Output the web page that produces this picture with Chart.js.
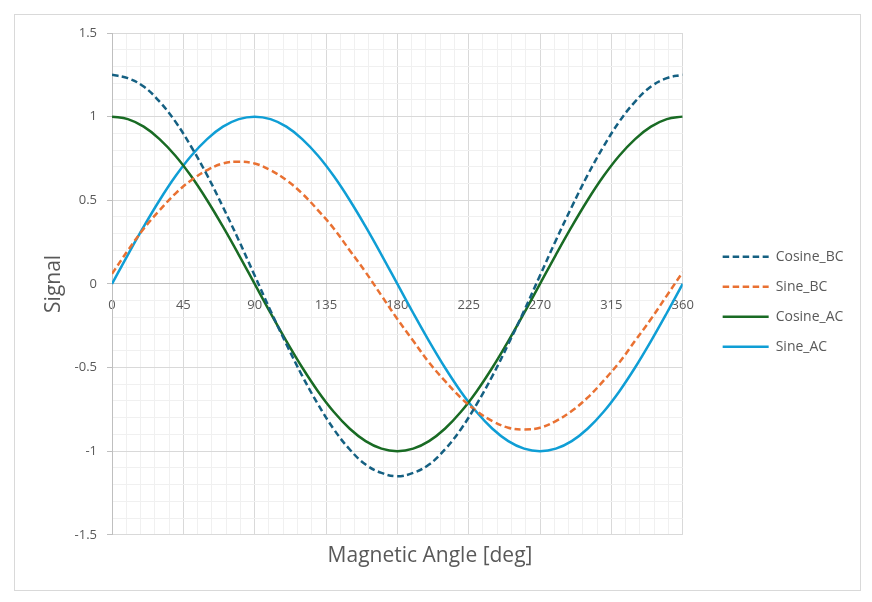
<!DOCTYPE html>
<html>
<head>
<meta charset="utf-8">
<script src="https://cdn.jsdelivr.net/npm/chart.js@4.4.1/dist/chart.umd.min.js"></script>
<style>
  html, body { margin: 0; padding: 0; background: #fff; }
  #box {
    position: absolute; left: 14px; top: 14px;
    width: 847px; height: 577px;
    border: 1px solid #d9d9d9; box-sizing: border-box;
  }
  #chart { display: block; }
</style>
</head>
<body>
<div id="box"><canvas id="chart" width="845" height="575"></canvas></div>
<script>
// angle samples, degrees
const angles = [0, 10, 20, 30, 40, 50, 60, 70, 80, 90, 100, 110, 120, 130, 140, 150, 160, 170, 180,
  190, 200, 210, 220, 230, 240, 250, 260, 270, 280, 290, 300, 310, 320, 330, 340, 350, 360];

// values
const cosineBC = [1.25, 1.23, 1.18, 1.09, 0.97, 0.82, 0.65, 0.46, 0.26, 0.05, -0.16, -0.36, -0.55,
  -0.72, -0.87, -0.99, -1.08, -1.13, -1.15, -1.13, -1.08, -0.99, -0.87, -0.72, -0.55, -0.36, -0.16,
  0.05, 0.26, 0.46, 0.65, 0.82, 0.97, 1.09, 1.18, 1.23, 1.25];
const sineBC = [0.06, 0.2, 0.33, 0.44, 0.54, 0.62, 0.68, 0.72, 0.73, 0.72, 0.68, 0.62, 0.54,
  0.44, 0.33, 0.2, 0.07, -0.07, -0.21, -0.34, -0.47, -0.58, -0.68, -0.76, -0.82, -0.86, -0.87,
  -0.86, -0.82, -0.76, -0.68, -0.58, -0.47, -0.34, -0.21, -0.07, 0.07];
const cosineAC = [1, 0.985, 0.94, 0.866, 0.766, 0.643, 0.5, 0.342, 0.174, 0, -0.174, -0.342, -0.5,
  -0.643, -0.766, -0.866, -0.94, -0.985, -1, -0.985, -0.94, -0.866, -0.766, -0.643, -0.5, -0.342,
  -0.174, 0, 0.174, 0.342, 0.5, 0.643, 0.766, 0.866, 0.94, 0.985, 1];
const sineAC = [0, 0.174, 0.342, 0.5, 0.643, 0.766, 0.866, 0.94, 0.985, 1, 0.985, 0.94, 0.866,
  0.766, 0.643, 0.5, 0.342, 0.174, 0, -0.174, -0.342, -0.5, -0.643, -0.766, -0.866, -0.94, -0.985,
  -1, -0.985, -0.94, -0.866, -0.766, -0.643, -0.5, -0.342, -0.174, 0];

const seriesNames = ["Cosine_BC", "Sine_BC", "Cosine_AC", "Sine_AC"];
const seriesColors = ["#156082", "#E97132", "#196B24", "#0F9ED5"];
const seriesDashed = [true, true, false, false];
const seriesValues = [cosineBC, sineBC, cosineAC, sineAC];

const xMajor = 45, xMinor = 9;
const yMin = -1.5, yMax = 1.5;

const textColor = "#595959";
const majorGrid = "#d9d9d9";
const minorGrid = "#f0f0f0";
const FONT = "'Open Sans', sans-serif";

function toPoints(vals) {
  return angles.map((a, i) => ({ x: a, y: vals[i] }));
}

const datasets = seriesNames.map((name, i) => ({
  label: name,
  data: toPoints(seriesValues[i]),
  showLine: true,
  borderColor: seriesColors[i],
  backgroundColor: seriesColors[i],
  borderWidth: 2.5,
  borderDash: seriesDashed[i] ? [6.5, 3.5] : [],
  pointRadius: 0,
  pointHoverRadius: 0,
  tension: 0.4,
  fill: false
}));

function isYMajor(v) { return Math.round(v * 10) % 5 === 0; }

// legend swatches take the dash of the line, not of the point
function legendLabels(chart) {
  return Chart.defaults.plugins.legend.labels.generateLabels(chart).map(item => {
    const ds = chart.data.datasets[item.datasetIndex];
    item.lineDash = ds.borderDash;
    item.lineWidth = ds.borderWidth;
    item.strokeStyle = ds.borderColor;
    return item;
  });
}

new Chart(document.getElementById("chart"), {
  type: "scatter",
  data: { datasets },
  options: {
    responsive: false,
    animation: false,
    layout: { padding: { top: 18, right: 15, bottom: 19.5, left: 0 } },
    scales: {
      x: {
        type: "linear",
        min: 0, max: 360,
        position: { y: 0 },
        grid: {
          drawTicks: false,
          color: c => (c.tick && c.tick.value % xMajor === 0) ? majorGrid : minorGrid
        },
        border: { color: "#bfbfbf", width: 1 },
        ticks: {
          stepSize: xMinor,
          autoSkip: false,
          maxRotation: 0,
          padding: 14,
          color: textColor,
          font: { family: FONT, size: 13 },
          callback: v => v % xMajor === 0 ? String(v) : ""
        }
      },
      y: {
        min: yMin, max: yMax,
        afterFit: s => { s.width = 97; },
        grid: {
          tickLength: 5,
          color: c => (c.tick && isYMajor(c.tick.value)) ? majorGrid : minorGrid,
          tickColor: c => (c.tick && isYMajor(c.tick.value)) ? "#bfbfbf" : "rgba(0,0,0,0)"
        },
        border: { color: "#bfbfbf", width: 1 },
        ticks: {
          stepSize: 0.1,
          autoSkip: false,
          padding: 10,
          color: textColor,
          font: { family: FONT, size: 13 },
          callback: v => isYMajor(v) ? String(Math.round(v * 10) / 10) : ""
        },
        title: {
          display: true,
          text: "Signal",
          color: textColor,
          font: { family: FONT, size: 21 },
          padding: { top: 26, bottom: 0 }
        }
      },
      // empty axis: keeps a gap between the plot and the legend
      gap: {
        type: "linear",
        position: "right",
        afterFit: s => { s.width = 24; },
        grid: { display: false },
        border: { display: false },
        ticks: { display: false }
      }
    },
    plugins: {
      tooltip: { enabled: false },
      title: {
        display: true,
        position: "bottom",
        text: "Magnetic Angle [deg]",
        color: textColor,
        font: { family: FONT, size: 21, weight: "normal" },
        padding: { top: 9, bottom: 1.5 }
      },
      legend: {
        position: "right",
        labels: {
          usePointStyle: true,
          pointStyle: "line",
          pointStyleWidth: 46,
          boxHeight: 14,
          padding: 16,
          color: textColor,
          font: { family: FONT, size: 14 },
          generateLabels: legendLabels
        }
      }
    }
  }
});
</script>
</body>
</html>
